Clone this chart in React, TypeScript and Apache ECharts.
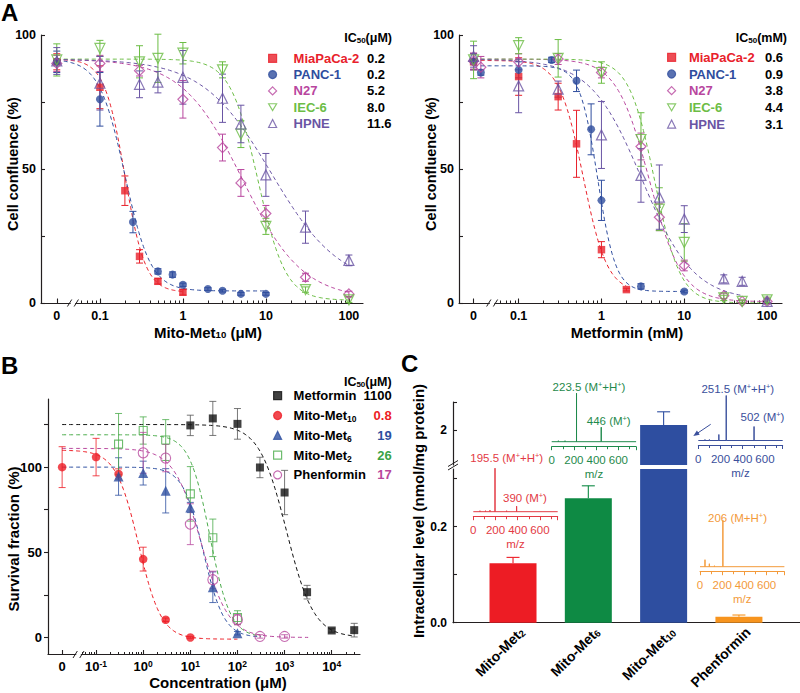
import React, { useEffect, useRef } from 'react';
import * as echarts from 'echarts';

const FONT = "'Liberation Sans', Arial, Helvetica, sans-serif";
const AXIS = '#231f20';

// ---------------- Panel A (shared) ----------------
const cellLines = ['MiaPaCa-2', 'PANC-1', 'N27', 'IEC-6', 'HPNE'];
const cellColors = ['#e8212b', '#2f4d9e', '#b8469e', '#6cbd45', '#6a55a4'];
const cellSymbols = ['rect', 'circle', 'diamond', 'triangle', 'triangle'];
const cellSymbolRotate = [0, 0, 0, 180, 0];
const cellFilled = [true, true, false, false, false];
const cellSymbolSize = [7.5, 8, 10, 10, 10];

// A left: Mito-Met10 (μM)
const aLeftConc = [
  [0, 0.1, 0.2, 0.3, 0.5, 1],
  [0, 0.1, 0.25, 0.5, 0.75, 1, 2, 3, 5, 10],
  [0, 0.1, 0.3, 1, 3, 5, 10, 30, 100],
  [0, 0.1, 0.3, 0.5, 1, 3, 5, 10, 30, 100],
  [0, 0.1, 0.3, 0.5, 1, 3, 5, 10, 30, 100],
];
const aLeftVal = [
  [90, 80.5, 41.9, 17.4, 8.1, 4.0],
  [90, 76, 30.2, 11.8, 10.6, 6.8, 5.2, 4.6, 3.4, 3.4],
  [89.4, 89.4, 86.7, 76, 58, 44.8, 33.4, 9.6, 3.4],
  [90.7, 95, 90, 91.3, 93.2, 87, 63, 28.6, 5, 1.2],
  [90.3, 82, 81.6, 82.4, 84.2, 76.4, 66.8, 47.8, 28.3, 15.9],
];
const aLeftErr = [
  [3, 8, 5.5, 2.5, 1, 1],
  [4, 10, 4, 1, 1, 0.6, 0.5, 0.5, 0.5, 0.5],
  [3, 3, 2, 7, 5, 5, 3, 1.5, 1],
  [6, 3, 6, 9, 4, 3, 5, 3, 1, 1],
  [5, 10, 5, 4, 10, 9, 7, 8, 6, 2],
];
const aLeftIC50Text = ['0.2', '0.2', '5.2', '8.0', '11.6'];
const aLeftFitIC50 = [0.2, 0.2, 5.2, 8.0, 11.6];
const aLeftFitTop = [91, 91, 91, 91, 91];
const aLeftFitBottom = [4, 4.5, 1.5, 1, 6];
const aLeftFitHill = [3.5, 2.8, 1.2, 2.6, 1.05];
const aLeftFitEndLog = [0.02, 1.0, 2.0, 2.0, 2.0];

// A right: Metformin (mM)
const aRightConc = [
  [0, 0.1, 0.3, 0.5, 1, 2],
  [0, 0.035, 0.1, 0.25, 0.5, 0.75, 1, 3, 10],
  [0, 0.035, 0.1, 0.3, 1, 3, 5, 10, 30, 50, 100],
  [0, 0.1, 0.3, 1, 3, 5, 10, 30, 50, 100],
  [0, 0.1, 0.3, 1, 3, 5, 10, 30, 50, 100],
];
const aRightVal = [
  [90, 84.5, 77, 59.4, 19.9, 5],
  [90, 86, 87, 90.7, 82.9, 64.8, 38.3, 6.2, 4.3],
  [90.3, 88, 90, 91, 86, 58.4, 32, 14, 2.7, 0.6, 0.6],
  [90.7, 96, 91.3, 86, 61, 35, 22.6, 1.9, 0.6, 1.2],
  [92, 81, 79.8, 62.7, 47.6, 39.5, 31.3, 9, 8.1, 0.6],
];
const aRightErr = [
  [3, 7, 5, 12.5, 3, 0.5],
  [3, 1, 3, 1, 4, 9.5, 7.5, 1, 0.5],
  [3, 4, 3, 2, 2, 5, 5, 2, 1, 0.5, 0.5],
  [7, 3, 7, 4, 10, 8, 7, 1, 0.5, 1],
  [4, 10, 3, 12.5, 10, 12, 5, 1.5, 1.5, 1],
];
const aRightIC50Text = ['0.6', '0.9', '3.8', '4.4', '3.1'];
const aRightFitIC50 = [0.6, 0.9, 3.8, 4.4, 3.1];
const aRightFitTop = [90.5, 88.5, 91, 91, 91];
const aRightFitBottom = [4, 4.3, 0.5, 0, 1];
const aRightFitHill = [3, 4, 2.2, 2.8, 1.4];
const aRightFitEndLog = [0.3, 1.0, 2.0, 2.0, 1.7];

const aTickConc = [0, 0.1, 1, 10, 100];
const aTickLabels = ['0', '0.1', '1', '10', '100'];
const aMinorConc = [0.06, 0.07, 0.08, 0.09, 0.2, 0.3, 0.4, 0.5, 0.6, 0.7, 0.8, 0.9, 2, 3, 4, 5, 6, 7, 8, 9, 20, 30, 40, 50, 60, 70, 80, 90];

// ---------------- Panel B ----------------
const bCompounds = ['Metformin', 'Mito-Met10', 'Mito-Met6', 'Mito-Met2', 'Phenformin'];
const bColors = ['#111111', '#ed1c24', '#2d4fa0', '#4aab4a', '#b8479d'];
const bValueColors = ['#000000', '#ed1c24', '#2d4fa0', '#3aa346', '#b8479d'];
const bSymbols = ['rect', 'circle', 'triangle', 'rect', 'circle'];
const bFilled = [true, true, true, false, false];
const bSymbolSize = [8, 8.5, 10, 8, 10];
const bConc = [
  [10, 30, 100, 300, 1000, 3000, 10000, 30000],
  [0, 0.1, 0.3, 1, 3, 10],
  [0.3, 1, 3, 10, 30, 100],
  [0.3, 1, 3, 10, 30, 100],
  [1, 3, 10, 30, 100, 300, 1000],
];
const bVal = [
  [124.5, 128.6, 125.4, 99.8, 85.1, 26.6, 4.1, 4.3],
  [100, 105.9, 96, 46, 10.4, 0],
  [94.5, 96.5, 86.1, 76.3, 29.5, 2.5],
  [113.5, 121.5, 115.9, 84.3, 58.5, 11.7],
  [108.4, 105.3, 66.5, 33.9, 10.4, 0.6, 0.6],
];
const bErr = [
  [6, 10, 9, 6, 13, 4, 1, 4],
  [12, 11, 3, 7, 1, 0.5],
  [11, 7, 13, 3, 9, 1],
  [18, 8, 12, 16, 11, 4],
  [12, 8, 12, 5, 3, 1, 1],
];
const bIC50Text = ['1100', '0.8', '19', '26', '17'];
const bFitIC50 = [1100, 0.8, 19, 26, 17];
const bFitTop = [125, 110, 100, 119, 111];
const bFitBottom = [0, -1, 0, 0, 0];
const bFitHill = [1.5, 1.8, 2, 2, 1.5];
const bFitEndLog = [4.48, 2.0, 2.5, 2.5, 3.5];
const bTickConc = [0, 0.1, 1, 10, 100, 1000, 10000];
const bTickExp = ['', '-1', '0', '1', '2', '3', '4'];
const bMinorConc = [0.05, 0.06, 0.07, 0.08, 0.09, 0.2, 0.3, 0.4, 0.5, 0.6, 0.7, 0.8, 0.9, 2, 3, 4, 5, 6, 7, 8, 9, 20, 30, 40, 50, 60, 70, 80, 90, 200, 300, 400, 500, 600, 700, 800, 900, 2000, 3000, 4000, 5000, 6000, 7000, 8000, 9000, 20000, 30000];

// ---------------- Panel C ----------------
const cCompounds = ['Mito-Met2', 'Mito-Met6', 'Mito-Met10', 'Phenformin'];
const cLevels = [0.124, 0.259, 2.07, 0.0125];
const cErr = [0.012, 0.026, 0.19, 0.0035];
const cColors = ['#ed1c24', '#0e8a44', '#2e4ea0', '#f7941e'];
const cTextColors = ['#e33a44', '#1f8a4c', '#3a4f9c', '#f39a3a'];
// mass spectra insets: [m/z, relative intensity]
const specRed = [[60, 0.02], [110, 0.02], [150, 0.03], [195.5, 0.87], [300, 0.02], [390, 0.11]];
const specGreen = [[60, 0.02], [120, 0.02], [223.5, 0.97], [446, 0.29]];
const specBlue = [[60, 0.02], [100, 0.02], [185, 0.12], [251.5, 0.9], [502, 0.28]];
const specOrange = [[45, 0.14], [84, 0.06], [130, 0.02], [206, 0.93]];
const spectra = [specRed, specGreen, specBlue, specOrange];

// ---------------- layout ----------------
const ZERO_AL = -1.52;
const ZERO_AR = -1.544;
const ZERO_B = -1.72;

const logPos = (c: number, zero: number) => (c === 0 ? zero : Math.log10(c));
const hill = (x: number, top: number, bottom: number, ic50: number, h: number) =>
  bottom + (top - bottom) / (1 + Math.pow(x / ic50, h));
const fitCurve = (start: number, end: number, top: number, bottom: number, ic50: number, h: number) => {
  const pts: number[][] = [];
  const n = 140;
  for (let i = 0; i <= n; i++) {
    const p = start + ((end - start) * i) / n;
    pts.push([p, hill(Math.pow(10, p), top, bottom, ic50, h)]);
  }
  return pts;
};
const nearest = (arr: number[], v: number) => {
  let best = 0;
  arr.forEach((a, i) => {
    if (Math.abs(a - v) < Math.abs(arr[best] - v)) best = i;
  });
  return best;
};

const axisLine = (color = AXIS, width = 1.2) => ({ show: true, onZero: false, lineStyle: { color, width } });
const tickFont = { color: '#000', fontFamily: FONT, fontWeight: 'bold' as const, fontSize: 12.5 };

const errSeries = (xIdx: number, yIdx: number, pts: number[][], color: string, half: number, topOnly = false, width = 1) => ({
  type: 'custom',
  xAxisIndex: xIdx,
  yAxisIndex: yIdx,
  silent: true,
  z: 2,
  data: pts,
  encode: { x: 0, y: [1, 2] },
  renderItem: (_p: any, api: any) => {
    const x = api.value(0);
    const a = api.coord([x, api.value(1)]);
    const b = api.coord([x, api.value(2)]);
    const st = { stroke: color, lineWidth: width };
    const children: any[] = [
      { type: 'line', shape: { x1: a[0], y1: a[1], x2: b[0], y2: b[1] }, style: st },
      { type: 'line', shape: { x1: b[0] - half, y1: b[1], x2: b[0] + half, y2: b[1] }, style: st },
    ];
    if (!topOnly) children.push({ type: 'line', shape: { x1: a[0] - half, y1: a[1], x2: a[0] + half, y2: a[1] }, style: st });
    return { type: 'group', children };
  },
});

const breakSeries = (xIdx: number, yIdx: number, pos: number, yMin: number) => ({
  type: 'custom',
  xAxisIndex: xIdx,
  yAxisIndex: yIdx,
  silent: true,
  z: 5,
  data: [[pos, yMin]],
  renderItem: (_p: any, api: any) => {
    const p = api.coord([api.value(0), api.value(1)]);
    const st = { stroke: AXIS, lineWidth: 1 };
    return {
      type: 'group',
      children: [
        { type: 'rect', shape: { x: p[0] - 2.3, y: p[1] - 1.6, width: 4.6, height: 3.2 }, style: { fill: '#fff' } },
        { type: 'line', shape: { x1: p[0] - 5.5, y1: p[1] + 3.5, x2: p[0] - 1.2, y2: p[1] - 3.5 }, style: st },
        { type: 'line', shape: { x1: p[0] + 1.2, y1: p[1] + 3.5, x2: p[0] + 5.5, y2: p[1] - 3.5 }, style: st },
      ],
    };
  },
});

const cellPanelSeries = (
  conc: number[][], vals: number[][], errs: number[][],
  fTop: number[], fBot: number[], fIC: number[], fHill: number[], fEnd: number[],
  zero: number, xIdx: number, yIdx: number,
) => {
  const out: any[] = [];
  cellLines.forEach((name, i) => {
    const col = cellColors[i];
    out.push({
      type: 'line', name: 'fit ' + name, xAxisIndex: xIdx, yAxisIndex: yIdx, silent: true, z: 1,
      data: fitCurve(zero, fEnd[i], fTop[i], fBot[i], fIC[i], fHill[i]),
      showSymbol: false, symbol: 'none', lineStyle: { color: col, width: 1, type: [4, 3] },
    });
    out.push(errSeries(xIdx, yIdx, conc[i].map((c, k) => [logPos(c, zero), vals[i][k] - errs[i][k], vals[i][k] + errs[i][k]]), col, 3.5));
    out.push({
      type: 'scatter', name, xAxisIndex: xIdx, yAxisIndex: yIdx, z: 3,
      data: conc[i].map((c, k) => [logPos(c, zero), vals[i][k]]),
      symbol: cellSymbols[i], symbolRotate: cellSymbolRotate[i], symbolSize: cellSymbolSize[i], symbolKeepAspect: true,
      itemStyle: { color: cellFilled[i] ? col : 'rgba(255,255,255,0)', borderColor: col, borderWidth: cellFilled[i] ? 0 : 1.2 },
    });
  });
  return out;
};

const aXAxes = (grid: number, min: number, max: number, zero: number) => {
  const pos = aTickConc.map((c) => logPos(c, zero));
  return [
    {
      gridIndex: grid, type: 'value', min, max, axisLine: axisLine(), splitLine: { show: false },
      axisTick: { show: true, inside: true, length: 4.5, customValues: pos, lineStyle: { color: AXIS, width: 1.1 } },
      axisLabel: { customValues: pos, margin: 6, ...tickFont, formatter: (v: number) => aTickLabels[nearest(pos, v)] },
    },
    {
      gridIndex: grid, type: 'value', min, max, position: 'bottom', axisLine: { show: false, onZero: false }, splitLine: { show: false },
      axisLabel: { show: false },
      axisTick: { show: true, inside: true, length: 2.5, customValues: aMinorConc.map((c) => Math.log10(c)), lineStyle: { color: AXIS, width: 1 } },
    },
  ];
};

const aYAxis = (grid: number) => ({
  gridIndex: grid, type: 'value', min: 0, max: 100, axisLine: axisLine(), splitLine: { show: false },
  axisTick: { show: true, inside: true, length: 4, customValues: [0, 25, 50, 75, 100], lineStyle: { color: AXIS, width: 1.1 } },
  axisLabel: { customValues: [0, 50, 100], margin: 5, ...tickFont },
});

const subRich = (size: number, color: string, weight: string) => ({
  s: { fontSize: size * 0.64, fontFamily: FONT, fontWeight: weight, fill: color, color, verticalAlign: 'bottom', lineHeight: size * 0.55 },
  p: { fontSize: size * 0.64, fontFamily: FONT, fontWeight: weight, fill: color, color, verticalAlign: 'top', lineHeight: size * 0.55 },
});

const T = (x: number, y: number, text: string, o: any = {}) => {
  const color = o.color || '#000';
  const size = o.size || 13;
  const weight = o.weight || 'bold';
  return {
    type: 'text', x, y, rotation: o.rotation || 0, silent: true, z: 100,
    style: {
      text, fill: color, fontFamily: FONT, fontSize: size, fontWeight: weight,
      align: o.align || 'center', verticalAlign: 'middle', rich: subRich(size, color, weight),
    },
  };
};

const mitoRich = (name: string) => {
  const m = name.match(/^Mito-Met(\d+)$/);
  return m ? `{n|Mito-Met}{s|${m[1]}}` : `{n|${name}}`;
};

const DOWN_TRIANGLE = 'path://M0,0L10,0L5,8.66Z';

function buildOption() {
  // ---------- grids ----------
  const insetLayout = [
    { x: 473.3, axisY: 516.7 },
    { x: 551.7, axisY: 446.7 },
    { x: 698.3, axisY: 445.5 },
    { x: 700, axisY: 571.7 },
  ];
  const grids: any[] = [
    { left: 41, top: 35, width: 322, height: 268 },
    { left: 459, top: 35, width: 323, height: 268 },
    { left: 48, top: 399, width: 312, height: 255.5 },
    { left: 453, top: 469, width: 347, height: 153.7 },
    { left: 453, top: 402, width: 347, height: 63 },
    ...insetLayout.map((l) => ({ left: l.x, top: l.axisY - 60, width: 84.4, height: 60 })),
  ].map((g) => ({ ...g, containLabel: false, outerBoundsMode: 'none' }));

  // ---------- x axes ----------
  const bPos = bTickConc.map((c) => logPos(c, ZERO_B));
  const cLabelPos = [1.12, 2.12, 3.12, 4.12];
  const xAxes: any[] = [
    ...aXAxes(0, -1.71, 2.17, ZERO_AL),
    ...aXAxes(1, -1.72, 2.18, ZERO_AR),
    {
      gridIndex: 2, type: 'value', min: -2.02, max: 4.6, axisLine: axisLine(), splitLine: { show: false },
      axisTick: { show: true, inside: true, length: 4.5, customValues: bPos, lineStyle: { color: AXIS, width: 1.1 } },
      axisLabel: {
        customValues: bPos, margin: 5, ...tickFont, fontSize: 13,
        formatter: (v: number) => {
          const i = nearest(bPos, v);
          return i === 0 ? '0' : `{b|10}{sup|${bTickExp[i]}}`;
        },
        rich: {
          b: { fontSize: 13, fontWeight: 'bold', fontFamily: FONT, color: '#000' },
          sup: { fontSize: 8.5, fontWeight: 'bold', fontFamily: FONT, color: '#000', verticalAlign: 'top', lineHeight: 8 },
        },
      },
    },
    {
      gridIndex: 2, type: 'value', min: -2.02, max: 4.6, position: 'bottom', axisLine: { show: false, onZero: false }, splitLine: { show: false },
      axisLabel: { show: false },
      axisTick: { show: true, inside: true, length: 2.5, customValues: bMinorConc.map((c) => Math.log10(c)), lineStyle: { color: AXIS, width: 1 } },
    },
    {
      gridIndex: 3, type: 'value', min: 0.203, max: 4.811, axisLine: axisLine(), splitLine: { show: false },
      axisTick: { show: false },
      axisLabel: {
        customValues: cLabelPos, rotate: 45, margin: 7, color: '#000', fontFamily: FONT, fontWeight: 'bold', fontSize: 14,
        formatter: (v: number) => mitoRich(cCompounds[Math.round(v) - 1]),
        rich: {
          n: { fontSize: 14, fontWeight: 'bold', fontFamily: FONT, color: '#000', lineHeight: 15 },
          s: { fontSize: 9.5, fontWeight: 'bold', fontFamily: FONT, color: '#000', verticalAlign: 'bottom', lineHeight: 7 },
        },
      },
    },
    { gridIndex: 4, type: 'value', min: 0.203, max: 4.811, show: false, axisLine: { onZero: false }, splitLine: { show: false } },
    ...insetLayout.map((_l, i) => ({
      gridIndex: 5 + i, type: 'value', min: 0, max: 760, interval: 200,
      axisLine: axisLine(cTextColors[i], 1), splitLine: { show: false },
      axisTick: { show: true, inside: false, length: 3.5, lineStyle: { color: cTextColors[i], width: 1 } },
      minorTick: { show: true, splitNumber: 2, length: 2.5, lineStyle: { color: cTextColors[i], width: 1 } },
      minorSplitLine: { show: false },
      axisLabel: { margin: 7, color: cTextColors[i], fontFamily: FONT, fontSize: 11.5, showMaxLabel: false },
      name: 'm/z', nameLocation: 'middle', nameGap: 21,
      nameTextStyle: { color: cTextColors[i], fontFamily: FONT, fontSize: 11.5 },
    })),
  ];

  // ---------- y axes ----------
  const yAxes: any[] = [
    aYAxis(0),
    aYAxis(1),
    {
      gridIndex: 2, type: 'value', min: -10, max: 140, axisLine: axisLine(), splitLine: { show: false },
      axisTick: { show: true, inside: false, length: 4, customValues: [0, 25, 50, 75, 100, 125], lineStyle: { color: AXIS, width: 1.1 } },
      axisLabel: { customValues: [0, 50, 100], margin: 6, ...tickFont, fontSize: 13 },
    },
    {
      gridIndex: 3, type: 'value', min: 0, max: 0.32, axisLine: axisLine(), splitLine: { show: false },
      axisTick: { show: true, inside: true, length: 4, customValues: [0, 0.1, 0.2, 0.3], lineStyle: { color: AXIS, width: 1.1 } },
      axisLabel: { customValues: [0, 0.2], margin: 6, ...tickFont, fontSize: 12, formatter: (v: number) => v.toFixed(1) },
    },
    {
      gridIndex: 4, type: 'value', min: 1.5, max: 2.4, axisLine: axisLine(), splitLine: { show: false },
      axisTick: { show: true, inside: true, length: 4, customValues: [2, 2.4], lineStyle: { color: AXIS, width: 1.1 } },
      axisLabel: { customValues: [2], margin: 6, ...tickFont, fontSize: 12, formatter: () => '2' },
    },
    ...insetLayout.map((_l, i) => ({ gridIndex: 5 + i, type: 'value', min: -0.1, max: 1.1, show: false, axisLine: { onZero: false }, splitLine: { show: false } })),
  ];

  // ---------- series ----------
  const series: any[] = [
    ...cellPanelSeries(aLeftConc, aLeftVal, aLeftErr, aLeftFitTop, aLeftFitBottom, aLeftFitIC50, aLeftFitHill, aLeftFitEndLog, ZERO_AL, 0, 0),
    ...cellPanelSeries(aRightConc, aRightVal, aRightErr, aRightFitTop, aRightFitBottom, aRightFitIC50, aRightFitHill, aRightFitEndLog, ZERO_AR, 2, 1),
    breakSeries(0, 0, -1.325, 0),
    breakSeries(2, 1, -1.32, 0),
    breakSeries(4, 2, -1.372, -10),
  ];
  bCompounds.forEach((name, i) => {
    const col = bColors[i];
    series.push({
      type: 'line', name: 'fit ' + name, xAxisIndex: 4, yAxisIndex: 2, silent: true, z: 1,
      data: fitCurve(ZERO_B, bFitEndLog[i], bFitTop[i], bFitBottom[i], bFitIC50[i], bFitHill[i]),
      showSymbol: false, symbol: 'none', lineStyle: { color: col, width: 1, type: [4, 3] },
    });
    series.push(errSeries(4, 2, bConc[i].map((c, k) => [logPos(c, ZERO_B), bVal[i][k] - bErr[i][k], bVal[i][k] + bErr[i][k]]), i === 0 ? '#555' : col, 3.5, false, 0.8));
    series.push({
      type: 'scatter', name, xAxisIndex: 4, yAxisIndex: 2, z: 3,
      data: bConc[i].map((c, k) => [logPos(c, ZERO_B), bVal[i][k]]),
      symbol: bSymbols[i], symbolSize: bSymbolSize[i], symbolKeepAspect: true,
      itemStyle: { color: bFilled[i] ? col : 'rgba(255,255,255,0)', borderColor: col, borderWidth: bFilled[i] ? 0 : 1.1 },
    });
  });
  // Panel C bars
  series.push({
    type: 'bar', name: 'level', xAxisIndex: 6, yAxisIndex: 3, barWidth: 47, clip: true, z: 2,
    data: cLevels.map((v, i) => ({ value: [i + 1, v], itemStyle: { color: cColors[i] } })),
  });
  series.push({
    type: 'bar', name: 'level-upper', xAxisIndex: 7, yAxisIndex: 4, barWidth: 47, clip: true, z: 2,
    data: cLevels.map((v, i) => ({ value: [i + 1, v], itemStyle: { color: cColors[i] } })).filter((d) => d.value[1] > 1.5),
  });
  cLevels.forEach((v, i) => {
    const upper = v > 0.32;
    series.push(errSeries(upper ? 7 : 6, upper ? 4 : 3, [[i + 1, v, v + cErr[i]]], cColors[i], 6.5, true, 1.1));
  });
  spectra.forEach((peaks, i) => {
    const pts: number[][] = [[0, 0]];
    peaks.forEach(([mz, h]) => {
      pts.push([mz, 0], [mz, h], [mz, 0]);
    });
    pts.push([760, 0]);
    series.push({
      type: 'line', name: 'spectrum ' + cCompounds[i], xAxisIndex: 8 + i, yAxisIndex: 5 + i, silent: true, z: 3,
      data: pts, showSymbol: false, symbol: 'none', clip: false, lineStyle: { color: cTextColors[i], width: 1 },
    });
  });

  // ---------- legends ----------
  const legendCommon = {
    orient: 'vertical', padding: 0, selectedMode: false, itemWidth: 8, itemHeight: 8,
    symbolKeepAspect: true, itemStyle: { borderWidth: 1.2 },
  };
  const aLegend = (left: number, top: number, gap: number, gapW: number) => ({
    ...legendCommon, left, top, itemGap: gap,
    formatter: (name: string) => `{g| }{n|${name}}`,
    textStyle: {
      fontFamily: FONT, fontWeight: 'bold', fontSize: 13, lineHeight: 15,
      rich: {
        g: { width: gapW, fontSize: 13, lineHeight: 15 },
        n: { fontSize: 13, fontWeight: 'bold', fontFamily: FONT, lineHeight: 15 },
      },
    },
    data: cellLines.map((n, i) => ({
      name: n,
      textStyle: { color: cellColors[i] },
      ...(cellSymbolRotate[i] === 180 ? { icon: DOWN_TRIANGLE } : {}),
    })),
  });
  const legends: any[] = [
    aLegend(268, 50.8, 1.3, 12),
    aLegend(667, 49.8, 1.7, 8.3),
    {
      ...legendCommon, left: 273, top: 387.7, itemGap: 3.8,
      formatter: (name: string) => '{g| }' + mitoRich(name),
      textStyle: {
        fontFamily: FONT, fontWeight: 'bold', fontSize: 13, color: '#000', lineHeight: 16,
        rich: {
          g: { width: 7, fontSize: 13, lineHeight: 16 },
          n: { fontSize: 13, fontWeight: 'bold', fontFamily: FONT, color: '#000', lineHeight: 16 },
          s: { fontSize: 8.5, fontWeight: 'bold', fontFamily: FONT, color: '#000', verticalAlign: 'bottom', lineHeight: 7 },
        },
      },
      data: bCompounds,
    },
  ];

  // ---------- graphic texts ----------
  const g: any[] = [
    T(1, 12.5, 'A', { size: 24, align: 'left' }),
    T(1, 365, 'B', { size: 24, align: 'left' }),
    T(401, 363, 'C', { size: 24, align: 'left' }),
    T(13, 164, 'Cell confluence (%)', { size: 14.5, rotation: Math.PI / 2 }),
    T(431, 164, 'Cell confluence (%)', { size: 14.5, rotation: Math.PI / 2 }),
    T(208, 332, 'Mito-Met{s|10} (μM)', { size: 15 }),
    T(627, 332, 'Metformin (mM)', { size: 15 }),
    T(13, 539, 'Survival fraction (%)', { size: 15, rotation: Math.PI / 2 }),
    T(218, 682, 'Concentration (μM)', { size: 15 }),
    T(418, 511, 'Intracellular level (nmol/mg protein)', { size: 15, rotation: Math.PI / 2 }),
    T(392, 38.3, 'IC{s|50}(μM)', { size: 12.5, align: 'right' }),
    T(787, 38.3, 'IC{s|50}(mM)', { size: 12.5, align: 'right' }),
    T(391.7, 381.7, 'IC{s|50}(μM)', { size: 12.5, align: 'right' }),
  ];
  aLeftIC50Text.forEach((t, i) => g.push(T(367, 58.3 + 16.3 * i, t, { align: 'left' })));
  aRightIC50Text.forEach((t, i) => g.push(T(765, 57.3 + 16.7 * i, t, { align: 'left' })));
  bIC50Text.forEach((t, i) => g.push(T(391.7, 395.7 + 19.8 * i, t, { align: 'right', color: bValueColors[i] })));
  // inset peak annotations
  const ann = [
    [506.7, 458.3, '195.5 (M{p|+}+H{p|+})', 0],
    [525, 498.3, '390 (M{p|+})', 0],
    [589, 386.7, '223.5 (M{p|+}+H{p|+})', 1],
    [608.7, 421, '446 (M{p|+})', 1],
    [737.8, 389, '251.5 (M{p|+}+H{p|+})', 2],
    [762.5, 417.3, '502 (M{p|+})', 2],
    [737.5, 517.7, '206 (M+H{p|+})', 3],
  ] as [number, number, string, number][];
  ann.forEach(([x, y, t, c]) => g.push(T(x, y, t, { size: 11.5, weight: 'normal', color: cTextColors[c] })));
  // axis break on panel C y axis
  g.push({ type: 'line', z: 100, silent: true, shape: { x1: 448, y1: 466.5, x2: 458, y2: 460.5 }, style: { stroke: AXIS, lineWidth: 1 } });
  g.push({ type: 'line', z: 100, silent: true, shape: { x1: 448, y1: 470, x2: 458, y2: 464 }, style: { stroke: AXIS, lineWidth: 1 } });
  // arrow pointing at Mito-Met10 bar
  g.push({ type: 'line', z: 100, silent: true, shape: { x1: 710.7, y1: 424.3, x2: 696, y2: 434.2 }, style: { stroke: cTextColors[2], lineWidth: 1 } });
  g.push({ type: 'polygon', z: 100, silent: true, shape: { points: [[693.3, 436], [699.7, 434.7], [696.9, 430.5]] }, style: { fill: cTextColors[2] } });

  return {
    animation: false,
    backgroundColor: '#fff',
    grid: grids,
    xAxis: xAxes,
    yAxis: yAxes,
    legend: legends,
    series,
    graphic: g,
  };
}

export default function App() {
  const ref = useRef<HTMLDivElement>(null);
  useEffect(() => {
    if (!ref.current) return;
    const chart = echarts.init(ref.current, null, { renderer: 'svg' });
    chart.setOption(buildOption() as any);
    return () => chart.dispose();
  }, []);
  return <div ref={ref} style={{ position: 'absolute', left: 0, top: 0, width: 800, height: 693, background: '#fff' }} />;
}
